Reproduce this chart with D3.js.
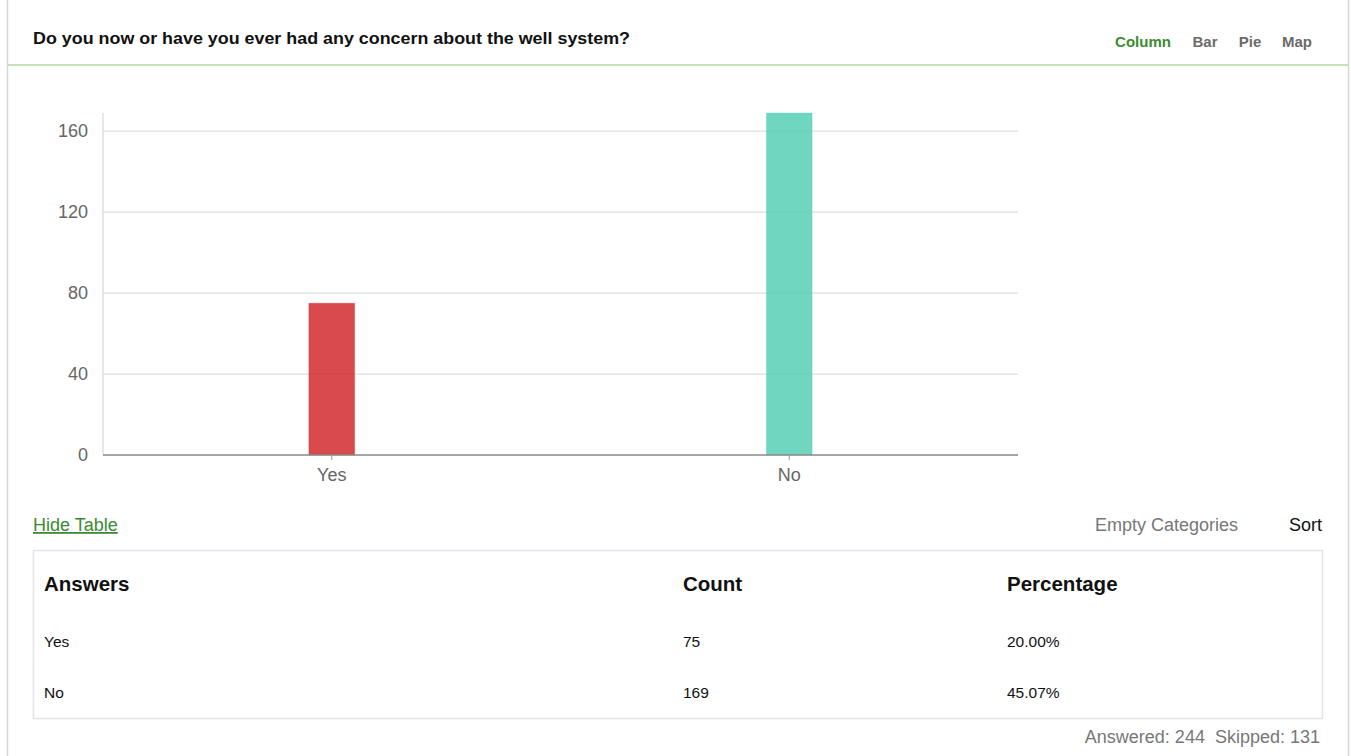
<!DOCTYPE html>
<html><head><meta charset="utf-8">
<script src="https://cdn.jsdelivr.net/npm/d3@7"></script>
<style>
html,body{margin:0;padding:0;background:#fff;}
svg{display:block;font-family:"Liberation Sans",Arial,Helvetica,sans-serif;}
</style></head>
<body><svg id="c" width="1351" height="756"></svg>
<script>
const title = "Do you now or have you ever had any concern about the well system?";
const categories = ["Yes", "No"];
const counts = [75, 169];
const percentages = ["20.00%", "45.07%"];
const barColors = ["#d12a2f", "#56d0b4"];
const yTicks = [0, 40, 80, 120, 160];
const chartTypes = ["Column", "Bar", "Pie", "Map"];
const tableHeaders = ["Answers", "Count", "Percentage"];
const answered = 244, skipped = 131;

const FONT = "\"Liberation Sans\",Arial,sans-serif";
const svg = d3.select("#c");

// frame
svg.append("line").attr("x1",7.5).attr("x2",7.5).attr("y1",0).attr("y2",756).attr("stroke","#d6d6d6").attr("stroke-width",1.5);
svg.append("line").attr("x1",1348.5).attr("x2",1348.5).attr("y1",0).attr("y2",756).attr("stroke","#d6d6d6").attr("stroke-width",1.5);
svg.append("line").attr("x1",8).attr("x2",1348).attr("y1",65).attr("y2",65).attr("stroke","#b5d9a0").attr("stroke-width",1.5);

svg.append("text").attr("x",33).attr("y",44).attr("font-size",16.5).attr("font-weight","bold").attr("fill","#111")
  .attr("textLength",597).attr("lengthAdjust","spacingAndGlyphs").text(title);

const typeX = [1143, 1205, 1250, 1297];
chartTypes.forEach((t,i)=>{
  svg.append("text").attr("x",typeX[i]).attr("y",47).attr("text-anchor","middle")
    .attr("font-size",15).attr("font-weight","bold")
    .attr("fill", i===0 ? "#3b8b30" : "#6b6b6b").text(t);
});

// chart
const x = d3.scaleBand().domain(categories).range([103,1018]).padding(0);
const y = d3.scaleLinear().domain([0,169]).range([455,113]);

const g = svg.append("g");
g.selectAll(".grid").data(yTicks.filter(d=>d>0)).join("line")
  .attr("x1",103).attr("x2",1018).attr("y1",d=>y(d)).attr("y2",d=>y(d))
  .attr("stroke","#dedede").attr("stroke-width",1.2);
g.append("line").attr("x1",103).attr("x2",103).attr("y1",y(169)).attr("y2",455).attr("stroke","#d8d8d8").attr("stroke-width",1.2);

const yAxis = d3.axisLeft(y).tickValues(yTicks).tickSize(0).tickPadding(15);
const ya = g.append("g").attr("transform","translate(103,0)").call(yAxis);
ya.select(".domain").remove();
ya.selectAll("text").attr("font-size",18).attr("fill","#666").attr("font-family",FONT);

const bw = x.bandwidth()*0.1;
g.selectAll(".bar").data(categories).join("rect")
  .attr("x",(d)=>x(d)+x.bandwidth()/2-bw/2)
  .attr("width",bw)
  .attr("y",(d,i)=>y(counts[i]))
  .attr("height",(d,i)=>455-y(counts[i]))
  .attr("fill",(d,i)=>barColors[i]).attr("fill-opacity",0.85)
  .attr("stroke",(d,i)=>barColors[i]).attr("stroke-opacity",0.3).attr("stroke-width",1);

const xAxis = d3.axisBottom(x).tickSize(5).tickPadding(8);
const xa = g.append("g").attr("transform","translate(0,455)").call(xAxis);
xa.select(".domain").attr("stroke","#888").attr("stroke-width",1.5).attr("d","M103,0H1018");
xa.selectAll("line").attr("stroke","#999");
xa.selectAll("text").attr("font-size",18).attr("fill","#666").attr("font-family",FONT);

// controls
svg.append("text").attr("x",33).attr("y",531).attr("font-size",18).attr("fill","#3b8b30")
  .attr("text-decoration","underline").text("Hide Table");
svg.append("text").attr("x",1238).attr("y",531).attr("text-anchor","end").attr("font-size",18).attr("fill","#777").text("Empty Categories");
svg.append("text").attr("x",1322).attr("y",531).attr("text-anchor","end").attr("font-size",18).attr("fill","#111").text("Sort");

// table
svg.append("rect").attr("x",33.5).attr("y",550.5).attr("width",1289).attr("height",168)
  .attr("fill","none").attr("stroke","#e4e4ea").attr("stroke-width",1.5);
const colX = [44, 683, 1007];
tableHeaders.forEach((h,i)=>{
  svg.append("text").attr("x",colX[i]).attr("y",591).attr("font-size",20.5).attr("font-weight","bold").attr("fill","#111").text(h);
});
const rowY = [647, 698];
categories.forEach((c,i)=>{
  svg.append("text").attr("x",colX[0]).attr("y",rowY[i]).attr("font-size",15.5).attr("fill","#111").text(c);
  svg.append("text").attr("x",colX[1]).attr("y",rowY[i]).attr("font-size",15.5).attr("fill","#111").text(counts[i]);
  svg.append("text").attr("x",colX[2]).attr("y",rowY[i]).attr("font-size",15.5).attr("fill","#111").text(percentages[i]);
});

svg.append("text").attr("x",1320).attr("y",743).attr("text-anchor","end").attr("font-size",18).attr("fill","#777")
  .attr("xml:space","preserve").text(`Answered: ${answered}  Skipped: ${skipped}`);
</script></body></html>
